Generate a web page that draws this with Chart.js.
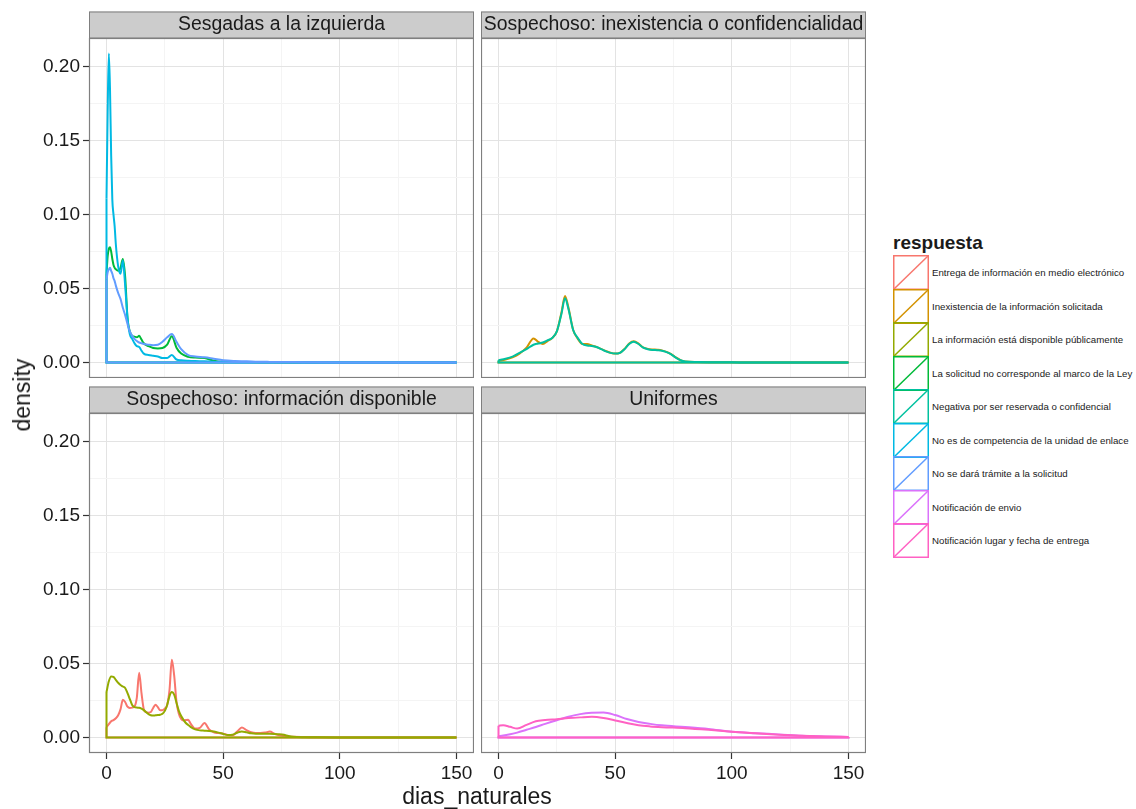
<!DOCTYPE html>
<html lang="es">
<head>
<meta charset="utf-8">
<title>dias_naturales por respuesta</title>
<script src="https://cdn.jsdelivr.net/npm/chart.js@4.4.1/dist/chart.umd.min.js"></script>
<style>
	html, body { margin: 0; padding: 0; background: #fff; }
	#page { position: relative; width: 1136px; height: 809px; overflow: hidden; font-family: "Liberation Sans", Arial, sans-serif; color: #1a1a1a; }
	.panel { position: absolute; }
	#panel-tl { left: 29px; top: 11px; }
	#panel-tr { left: 481px; top: 11px; }
	#panel-bl { left: 29px; top: 386px; }
	#panel-br { left: 481px; top: 386px; }
	.axis-title { position: absolute; font-size: 23px; line-height: 26px; white-space: nowrap; }
	#y-title { left: 22px; top: 395px; transform: translate(-50%, -50%) rotate(-90deg); }
	#x-title { left: 477px; top: 796px; transform: translate(-50%, -50%); }
	#legend { position: absolute; left: 893px; top: 232px; }
	#legend .title { font-size: 19px; line-height: 22px; font-weight: bold; margin-bottom: 2px; }
	.key-row { display: flex; align-items: center; height: 33.5px; }
	.key-row svg { display: block; flex: none; }
	.key-label { font-size: 9.7px; margin-left: 3px; white-space: nowrap; }
</style>
</head>
<body>
<div id="page">
	<canvas id="panel-tl" class="panel" width="445" height="367"></canvas>
	<canvas id="panel-tr" class="panel" width="385" height="367"></canvas>
	<canvas id="panel-bl" class="panel" width="445" height="402"></canvas>
	<canvas id="panel-br" class="panel" width="385" height="402"></canvas>
	<div id="y-title" class="axis-title">density</div>
	<div id="x-title" class="axis-title">dias_naturales</div>
	<div id="legend"><div class="title">respuesta</div></div>
</div>
<script>
(function() {
	'use strict';

	// Response levels, in factor order, and the default ggplot hue colours
	const respuestas = [
		'Entrega de información en medio electrónico',
		'Inexistencia de la información solicitada',
		'La información está disponible públicamente',
		'La solicitud no corresponde al marco de la Ley',
		'Negativa por ser reservada o confidencial',
		'No es de competencia de la unidad de enlace',
		'No se dará trámite a la solicitud',
		'Notificación de envio',
		'Notificación lugar y fecha de entrega'
	];
	const colores = ['#F8766D', '#D39200', '#93AA00', '#00BA38', '#00C19F', '#00B9E3', '#619CFF', '#DB72FB', '#FF61C3'];

	// Axis breaks
	const xTicks = [0, 50, 100, 150];
	const xMinor = [25, 75, 125];
	const yTicks = [0, 0.05, 0.10, 0.15, 0.20];
	const yTickLabels = ['0.00', '0.05', '0.10', '0.15', '0.20'];
	const yMinor = [0.025, 0.075, 0.125, 0.175];

	// Sesgadas a la izquierda
	const diasSesgadas = [0, 0.5, 1, 1.5, 2, 2.5, 3, 3.5, 4, 5, 6, 7, 8, 9, 10, 11, 12, 13, 14, 15, 16, 18, 20, 22, 24, 26, 28, 30, 32, 35, 38, 42, 46, 50, 55, 60, 65, 70, 80, 90, 100, 120, 150];
	const solicitudNoCorresponde = [0.060, 0.072, 0.077, 0.078, 0.075, 0.070, 0.066, 0.064, 0.063, 0.062, 0.064, 0.070, 0.058, 0.030, 0.021, 0.018, 0.0175, 0.017, 0.018, 0.0155, 0.013, 0.011, 0.0098, 0.0095, 0.0098, 0.012, 0.0178, 0.010, 0.006, 0.0038, 0.0033, 0.003, 0.0012, 0.0005, 0.0004, 0.0003, 0.0002, 0.0001, 0, 0, 0, 0, 0];
	const noEsCompetencia = [0.111, 0.170, 0.209, 0.185, 0.140, 0.110, 0.100, 0.092, 0.080, 0.065, 0.060, 0.069, 0.052, 0.030, 0.019, 0.016, 0.013, 0.011, 0.0105, 0.008, 0.006, 0.005, 0.0045, 0.004, 0.003, 0.003, 0.005, 0.002, 0.0015, 0.0012, 0.001, 0.0008, 0.0005, 0.0003, 0.0002, 0.0002, 0.0001, 0.0001, 0.0001, 0, 0, 0, 0];
	const noSeDaraTramite = [0.056, 0.061, 0.063, 0.064, 0.062, 0.060, 0.057, 0.055, 0.052, 0.047, 0.043, 0.037, 0.032, 0.026, 0.021, 0.018, 0.016, 0.0145, 0.0135, 0.013, 0.0125, 0.012, 0.0117, 0.012, 0.014, 0.017, 0.0192, 0.014, 0.009, 0.005, 0.004, 0.0035, 0.0025, 0.0015, 0.001, 0.0008, 0.0005, 0.0004, 0.0003, 0.0001, 0, 0, 0];

	// Sospechoso: inexistencia o confidencialidad
	const diasInexistencia = [0, 3, 6, 9, 12, 15, 17, 19, 21, 23, 25, 27, 28.5, 30, 32, 34, 36, 38, 40, 42, 44, 46, 48, 50, 52, 54, 56, 58, 60, 62, 64, 66, 68, 70, 72, 74, 76, 78, 80, 85, 90, 100, 110, 120, 130, 140, 150];
	const inexistencia = [0.001, 0.002, 0.0035, 0.006, 0.010, 0.0163, 0.014, 0.0125, 0.0145, 0.0165, 0.021, 0.034, 0.045, 0.037, 0.022, 0.016, 0.0125, 0.0125, 0.0115, 0.0105, 0.0092, 0.0078, 0.0066, 0.006, 0.0065, 0.0092, 0.0128, 0.0143, 0.0128, 0.0102, 0.0092, 0.0088, 0.0086, 0.0082, 0.0072, 0.0056, 0.0034, 0.0016, 0.0006, 0.0003, 0.0002, 0.0001, 0, 0, 0, 0, 0];
	const negativaReservada = [0.0015, 0.0025, 0.004, 0.0065, 0.009, 0.012, 0.0128, 0.0135, 0.015, 0.0165, 0.021, 0.033, 0.0434, 0.036, 0.022, 0.0165, 0.0125, 0.0115, 0.0112, 0.0105, 0.009, 0.0075, 0.0065, 0.006, 0.0065, 0.009, 0.0125, 0.014, 0.0125, 0.010, 0.009, 0.0085, 0.0083, 0.008, 0.007, 0.0055, 0.0033, 0.0015, 0.0006, 0.0003, 0.0002, 0.0001, 0, 0, 0, 0, 0];

	// Sospechoso: información disponible
	const diasDisponible = [0, 1, 2, 3, 4, 5, 6, 7, 8, 9, 10, 11, 12, 13, 14, 15, 16, 17, 18, 19, 20, 21, 22, 23, 24, 25, 26, 27, 28, 29, 30, 31, 32, 33, 34, 35, 36, 38, 40, 42, 44, 46, 48, 50, 52, 54, 56, 58, 60, 62, 64, 66, 68, 70, 72, 74, 76, 78, 80, 85, 90, 100, 150];
	const entregaElectronico = [0.007, 0.009, 0.011, 0.0118, 0.013, 0.015, 0.019, 0.0255, 0.024, 0.0208, 0.020, 0.0202, 0.021, 0.027, 0.0438, 0.030, 0.019, 0.0172, 0.0168, 0.0172, 0.020, 0.0222, 0.0205, 0.0185, 0.0185, 0.0195, 0.022, 0.032, 0.0526, 0.042, 0.024, 0.016, 0.0125, 0.0115, 0.0118, 0.012, 0.0095, 0.006, 0.0065, 0.0098, 0.0055, 0.0035, 0.003, 0.0025, 0.0017, 0.0015, 0.004, 0.0068, 0.005, 0.0035, 0.003, 0.003, 0.0033, 0.004, 0.0025, 0.0015, 0.001, 0.0007, 0.0005, 0.0003, 0.0001, 0, 0];
	const disponiblePublicamente = [0.0307, 0.038, 0.0413, 0.041, 0.039, 0.037, 0.0355, 0.0345, 0.0335, 0.030, 0.026, 0.022, 0.0205, 0.0202, 0.0201, 0.0195, 0.0185, 0.017, 0.0158, 0.015, 0.0148, 0.015, 0.0152, 0.0154, 0.016, 0.018, 0.022, 0.028, 0.0307, 0.029, 0.0235, 0.018, 0.0145, 0.012, 0.0098, 0.0085, 0.0072, 0.0055, 0.0048, 0.0046, 0.0044, 0.004, 0.0033, 0.0024, 0.0016, 0.0018, 0.0032, 0.0041, 0.0035, 0.0028, 0.0025, 0.0025, 0.0025, 0.0025, 0.0024, 0.0022, 0.0018, 0.0010, 0.0005, 0.0002, 0.0001, 0, 0];

	// Uniformes
	const diasUniformes = [0, 2, 5, 8, 12, 16, 20, 25, 30, 35, 40, 45, 50, 55, 60, 65, 70, 80, 90, 100, 110, 120, 130, 140, 150];
	const notificacionEnvio = [0.0009, 0.0013, 0.0022, 0.0033, 0.0052, 0.0071, 0.0092, 0.0117, 0.014, 0.0158, 0.0167, 0.0169, 0.0152, 0.0125, 0.0105, 0.0092, 0.0082, 0.0071, 0.0058, 0.0039, 0.0029, 0.0021, 0.0012, 0.0007, 0.0004];
	const notificacionLugar = [0.0079, 0.0083, 0.0072, 0.006, 0.0085, 0.011, 0.0118, 0.0124, 0.0131, 0.0136, 0.014, 0.0132, 0.0115, 0.0098, 0.0083, 0.0075, 0.0070, 0.0063, 0.0052, 0.0039, 0.0028, 0.0019, 0.0012, 0.0007, 0.0004];

	const STRIP_H = 27;
	const FONT = '"Liberation Sans", Arial, sans-serif';

	Chart.defaults.font.family = FONT;
	Chart.defaults.color = '#1a1a1a';

	const panels = [
		{ id: 'panel-tl', strip: 'Sesgadas a la izquierda', x: diasSesgadas, showX: false, showY: true,
			series: [[3, solicitudNoCorresponde], [5, noEsCompetencia], [6, noSeDaraTramite]] },
		{ id: 'panel-tr', strip: 'Sospechoso: inexistencia o confidencialidad', x: diasInexistencia, showX: false, showY: false,
			series: [[1, inexistencia], [4, negativaReservada]] },
		{ id: 'panel-bl', strip: 'Sospechoso: información disponible', x: diasDisponible, showX: true, showY: true,
			series: [[0, entregaElectronico], [2, disponiblePublicamente]] },
		{ id: 'panel-br', strip: 'Uniformes', x: diasUniformes, showX: true, showY: false,
			series: [[7, notificacionEnvio], [8, notificacionLugar]] }
	];

	/**
	 * Strip on top of each facet, grey border drawn over the data
	 */
	const facetPlugin = {
		id: 'facet',
		beforeDraw: function(chart, args, opts) {
			const ctx = chart.ctx;
			const area = chart.chartArea;
			const top = area.top - STRIP_H + 0.5;
			ctx.save();
			ctx.fillStyle = '#CCCCCC';
			ctx.fillRect(area.left, top, area.width, STRIP_H - 0.5);
			ctx.strokeStyle = '#7F7F7F';
			ctx.lineWidth = 1;
			ctx.strokeRect(area.left + 0.5, top + 0.5, area.width - 1, STRIP_H - 1);
			ctx.fillStyle = '#1a1a1a';
			ctx.font = '19.4px ' + FONT;
			ctx.textAlign = 'center';
			ctx.textBaseline = 'middle';
			ctx.fillText(opts.text, (area.left + area.right) / 2, top + STRIP_H / 2);
			ctx.restore();
		},
		afterDatasetsDraw: function(chart) {
			const ctx = chart.ctx;
			const area = chart.chartArea;
			ctx.save();
			ctx.strokeStyle = '#7F7F7F';
			ctx.lineWidth = 1.2;
			ctx.strokeRect(area.left + 0.5, area.top + 0.5, area.width - 1, area.height - 1);
			ctx.restore();
		}
	};

	function isMajor(list, v) {
		return list.some(t => Math.abs(t - v) < 1e-9);
	}

	/**
	 * Scales shared by all facets; only outer panels get labels
	 */
	function buildScales(showX, showY) {
		return {
			x: {
				type: 'linear',
				min: -7.5,
				max: 157.5,
				afterBuildTicks: function(scale) {
					scale.ticks = xTicks.concat(xMinor).sort((a, b) => a - b).map(v => ({ value: v }));
				},
				afterFit: function(scale) {
					// fixed strip of axis; labels never sit on the panel edge
					scale.height = showX ? 35 : 0;
					scale.paddingLeft = 0;
					scale.paddingRight = 0;
				},
				border: { display: false },
				grid: {
					color: c => isMajor(xTicks, c.tick.value) ? '#E3E3E3' : '#F4F4F4',
					lineWidth: 1,
					drawTicks: showX,
					tickLength: 6,
					tickColor: c => isMajor(xTicks, c.tick.value) ? '#333333' : 'rgba(0,0,0,0)',
					tickWidth: 1.2
				},
				ticks: {
					display: showX,
					autoSkip: false,
					maxRotation: 0,
					padding: 3,
					font: { size: 19 },
					callback: v => isMajor(xTicks, v) ? String(v) : ''
				}
			},
			y: {
				type: 'linear',
				min: -0.0105,
				max: 0.2195,
				afterBuildTicks: function(scale) {
					scale.ticks = yTicks.concat(yMinor).sort((a, b) => a - b).map(v => ({ value: v }));
				},
				afterFit: function(scale) {
					scale.width = showY ? 60 : 0;
					scale.paddingTop = 0;
					scale.paddingBottom = 0;
				},
				border: { display: false },
				grid: {
					color: c => isMajor(yTicks, c.tick.value) ? '#E3E3E3' : '#F4F4F4',
					lineWidth: 1,
					drawTicks: showY,
					tickLength: 6,
					tickColor: c => isMajor(yTicks, c.tick.value) ? '#333333' : 'rgba(0,0,0,0)',
					tickWidth: 1.2
				},
				ticks: {
					display: showY,
					autoSkip: false,
					padding: 3,
					font: { size: 19 },
					callback: function(v) {
						const i = yTicks.findIndex(t => Math.abs(t - v) < 1e-9);
						return i >= 0 ? yTickLabels[i] : '';
					}
				}
			}
		};
	}

	/**
	 * One density outline per response, closed along the baseline like geom_density
	 */
	function buildDatasets(panel) {
		const xs = panel.x;
		const last = xs.length - 1;
		const datasets = [];
		panel.series.forEach(function(s) {
			const color = colores[s[0]];
			const ys = s[1];
			datasets.push({
				label: respuestas[s[0]],
				data: xs.map((x, i) => ({ x: x, y: ys[i] })),
				borderColor: color,
				borderWidth: 2,
				pointRadius: 0,
				fill: false,
				cubicInterpolationMode: 'monotone'
			});
			datasets.push({
				label: respuestas[s[0]] + ' base',
				data: [
					{ x: xs[last], y: ys[last] },
					{ x: xs[last], y: 0 },
					{ x: xs[0], y: 0 },
					{ x: xs[0], y: ys[0] }
				],
				borderColor: color,
				borderWidth: 2,
				pointRadius: 0,
				fill: false,
				tension: 0
			});
		});
		// Chart.js paints the first dataset on top; ggplot paints the last level on top
		return datasets.reverse();
	}

	panels.forEach(function(panel) {
		new Chart(document.getElementById(panel.id), {
			type: 'line',
			data: { datasets: buildDatasets(panel) },
			options: {
				responsive: false,
				animation: false,
				layout: { padding: { top: STRIP_H, left: 0, right: 0, bottom: 0 } },
				plugins: {
					legend: { display: false },
					tooltip: { enabled: false },
					facet: { text: panel.strip }
				},
				scales: buildScales(panel.showX, panel.showY)
			},
			plugins: [facetPlugin]
		});
	});

	/**
	 * Legend: outlined key with a diagonal, as ggplot draws polygon keys
	 */
	const legend = document.getElementById('legend');
	const SVG_NS = 'http://www.w3.org/2000/svg';
	respuestas.forEach(function(label, i) {
		const row = document.createElement('div');
		row.className = 'key-row';
		const svg = document.createElementNS(SVG_NS, 'svg');
		svg.setAttribute('width', '36');
		svg.setAttribute('height', '35');
		svg.style.margin = '-0.75px 0';
		const rect = document.createElementNS(SVG_NS, 'rect');
		rect.setAttribute('x', '0.75');
		rect.setAttribute('y', '0.75');
		rect.setAttribute('width', '34.5');
		rect.setAttribute('height', '33.5');
		rect.setAttribute('fill', 'none');
		rect.setAttribute('stroke', colores[i]);
		rect.setAttribute('stroke-width', '1.5');
		const line = document.createElementNS(SVG_NS, 'line');
		line.setAttribute('x1', '0.75');
		line.setAttribute('y1', '34.25');
		line.setAttribute('x2', '35.25');
		line.setAttribute('y2', '0.75');
		line.setAttribute('stroke', colores[i]);
		line.setAttribute('stroke-width', '1.5');
		svg.appendChild(rect);
		svg.appendChild(line);
		const text = document.createElement('span');
		text.className = 'key-label';
		text.textContent = label;
		row.appendChild(svg);
		row.appendChild(text);
		legend.appendChild(row);
	});

})();
</script>
</body>
</html>
